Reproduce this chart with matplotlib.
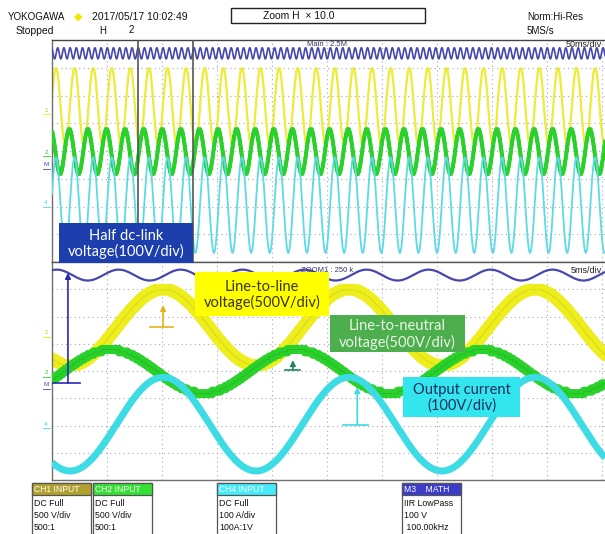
import numpy as np
import matplotlib.pyplot as plt
from matplotlib.patches import Rectangle

W, H = 605, 534  # canvas in pixels

# channel settings: vertical position / amplitude in divisions,
# time of first peak in ms (zoom time base), harmonic of the output frequency
ch_names = ['CH1', 'CH2', 'CH4', 'M3']
ch_colors = ['#eeee1e', '#2bd12b', '#3ddce4', '#4747ad']
ch_offset = [1.6, -0.02, -1.95, 3.52]
ch_amp = [1.4, 0.8, 1.72, 0.2]
ch_peak_ms = [10.1, 5.3, 10.1, 28.6]
ch_harmonic = [1, 1, 1, 3]
ch_step = [0.06, 0.09, 0.0, 0.0]

period_ms = 16.9
main_ms_div = 50
zoom_ms_div = 5
zoom_start_div = 1.56

# ground markers in the zoom pane: x (div), ground level, arrow tip, bar from/to
mark_x = [2.02, 4.38, 5.55, 0.29]
mark_gnd = [1.61, 0.04, -1.98, -0.44]
mark_tip = [2.42, 0.40, -0.59, 3.60]
mark_bar = [(1.78, 2.2), (4.24, 4.5), (5.29, 5.75), (0.0, 0.51)]
mark_colors = ['#e8b21c', '#1e8a5c', '#3ddce4', '#2a2ab0']

# setup boxes along the bottom
info_titles = ['CH1 INPUT', 'CH2 INPUT', 'CH4 INPUT', 'M3    MATH']
info_lines = [['DC Full', '500 V/div', '500:1'],
              ['DC Full', '500 V/div', '500:1'],
              ['DC Full', '100 A/div', '100A:1V'],
              ['IIR LowPass', '100 V', ' 100.00kHz']]
info_x = [32, 93, 217, 402]
info_head = ['#b0a12e', '#33e033', '#44ecfa', '#3c3cc6']

# labels placed on the traces
notes = [('Half dc-link\nvoltage(100V/div)', (59, 223, 193, 263), '#1d3fae', 'white'),
         ('Line-to-line\nvoltage(500V/div)', (195, 272, 329, 316), '#ffff00', '#3a3410'),
         ('Line-to-neutral\nvoltage(500V/div)', (330, 315, 465, 352), '#4cae4c', '#eaf8e6'),
         ('Output current\n(100V/div)', (403, 377, 520, 417), '#33e5ee', '#1c2d5c')]


def trace(i, t_ms):
    s = np.cos(2 * np.pi * ch_harmonic[i] * (t_ms - ch_peak_ms[i]) / period_ms)
    v = ch_amp[i] * s
    if ch_step[i] > 0:
        v = np.round(v / ch_step[i]) * ch_step[i]
    return ch_offset[i] + v


def px_rect(x0, y0, x1, y1):
    return [x0 / W, 1 - y1 / H, (x1 - x0) / W, (y1 - y0) / H]


def grid(ax):
    for gx in np.arange(1, 11):
        ax.axvline(gx, color='#a8a8a8', lw=0.8, ls=(0, (1, 3)), zorder=0)
    for gy in np.arange(-3, 4):
        ax.axhline(gy, color='#a8a8a8', lw=0.8, ls=(0, (1, 3)), zorder=0)
    ax.set_xlim(0, 553 / 55)
    ax.set_ylim(-4, 4)
    ax.set_xticks([])
    ax.set_yticks([])
    for sp in ax.spines.values():
        sp.set_color('#707070')
        sp.set_linewidth(1.0)
    ax.spines['right'].set_visible(False)


fig = plt.figure(figsize=(W / 100, H / 100), dpi=100)
fig.patch.set_facecolor('white')

# main (50 ms/div) pane
top = fig.add_axes(px_rect(52, 40, 605, 262))
grid(top)
top.spines['top'].set_color('#444444')
tt = np.linspace(0, 10.1 * main_ms_div, 24000)
xt = tt / main_ms_div
tz = tt - zoom_start_div * main_ms_div
top_lw = [1.5, 2.8, 1.3, 1.2]
top_colors = ['#ecec3a', '#2bd12b', '#5cdbe2', '#4747ad']
for i in [2, 0, 1, 3]:
    top.plot(xt, trace(i, tz), color=top_colors[i], lw=top_lw[i], zorder=2 + i)
for zx in [zoom_start_div, zoom_start_div + 1]:
    top.axvline(zx, color='#555555', lw=1.2, zorder=9)
top.text(5.0, 3.82, 'Main : 2.5M', fontsize=5.5, color='#333366', ha='center', va='center',
         family='Liberation Sans', zorder=8)
top.text(10.0, 3.82, '50ms/div', fontsize=6.5, color='#222222', ha='right', va='center',
         family='Liberation Sans', zorder=8)

# zoom (5 ms/div) pane
bot = fig.add_axes(px_rect(52, 262, 605, 480))
grid(bot)
bot.spines['top'].set_color('#555555')
tb = np.linspace(0, 10.1 * zoom_ms_div, 6000)
xb = tb / zoom_ms_div
bot_lw = [8.5, 6.5, 5.0, 1.6]
for i in [0, 1, 2, 3]:
    y = trace(i, tb)
    bot.plot(xb, y, color=ch_colors[i], lw=bot_lw[i], zorder=2 + i,
             solid_capstyle='butt', solid_joinstyle='round')
    if i < 2:
        bot.plot(xb, y, color='#c8c400' if i == 0 else '#17a217', lw=0.6, alpha=0.5, zorder=2 + i)
for i in range(4):
    bot.annotate('', xy=(mark_x[i], mark_tip[i]), xytext=(mark_x[i], mark_gnd[i]),
                 arrowprops=dict(arrowstyle='-|>', color=mark_colors[i], lw=1.2,
                                 mutation_scale=8, shrinkA=0, shrinkB=0), zorder=12)
    bot.plot(mark_bar[i], [mark_gnd[i]] * 2, color=mark_colors[i], lw=1.2, zorder=12)
bot.text(5.0, 3.7, 'ZOOM1 : 250 k', fontsize=5.5, color='#333366', ha='center', va='center',
         family='Liberation Sans', zorder=8)
bot.text(10.0, 3.7, '5ms/div', fontsize=6.5, color='#222222', ha='right', va='center',
         family='Liberation Sans', zorder=8)

# overlay in pixel coordinates for the header, labels and setup boxes
ov = fig.add_axes([0, 0, 1, 1])
ov.set_xlim(0, W)
ov.set_ylim(H, 0)
ov.axis('off')
ov.set_zorder(10)

ui = dict(family='Liberation Sans', color='#111111', va='center')
ov.text(8, 17, 'YOKOGAWA', fontsize=7, **ui)
ov.text(78, 17, '\u25c6', fontsize=8, ha='center', va='center', color='#f2e600')
ov.text(92, 17, '2017/05/17 10:02:49', fontsize=7.5, **ui)
ov.text(16, 31, 'Stopped', fontsize=7.5, **ui)
ov.text(103, 31, 'H', fontsize=7, ha='center', **ui)
ov.text(131, 30, '2', fontsize=7, ha='center', **ui)
ov.add_patch(Rectangle((231, 8), 194, 15, fill=False, edgecolor='#222222', lw=1.0))
ov.text(263, 16, 'Zoom H  \u00d7 10.0', fontsize=7.5, **ui)
ov.text(527, 17, 'Norm:Hi-Res', fontsize=7, **ui)
ov.text(527, 31, '5MS/s', fontsize=7, **ui)

# small channel level tags left of the panes
tags = [('1', 110, 0), ('2', 152, 1), ('M', 165, 3), ('4', 203, 2),
        ('1', 333, 0), ('2', 373, 1), ('M', 385, 3), ('4', 424, 2)]
for s, ty, ci in tags:
    ov.text(46, ty, s, fontsize=4.5, ha='center', va='center',
            color=ch_colors[ci] if ci != 0 else '#c8c000', family='Liberation Sans')
    ov.plot([43, 50], [ty + 4, ty + 4], color=ch_colors[ci], lw=0.6)

for text, (x0, y0, x1, y1), fc, tc in notes:
    ov.add_patch(Rectangle((x0, y0), x1 - x0, y1 - y0, facecolor=fc, edgecolor='none', zorder=3))
    ov.text((x0 + x1) / 2, (y0 + y1) / 2 + 1, text, fontsize=10.5, color=tc, ha='center',
            va='center', family='Lato', linespacing=1.15, zorder=4)

for k in range(4):
    x0 = info_x[k]
    ov.add_patch(Rectangle((x0, 483), 59, 52, facecolor='white', edgecolor='#555555', lw=0.9))
    ov.add_patch(Rectangle((x0, 483), 59, 12, facecolor=info_head[k], edgecolor='#555555', lw=0.9))
    ov.text(x0 + 2, 489.5, info_titles[k], fontsize=6.2, color='white', va='center',
            family='Liberation Sans')
    for j, line in enumerate(info_lines[k]):
        ov.text(x0 + 2, 503 + 12 * j, line, fontsize=6.3, color='#111111', va='center',
                family='Liberation Sans')

fig.savefig('out.png', dpi=100)
